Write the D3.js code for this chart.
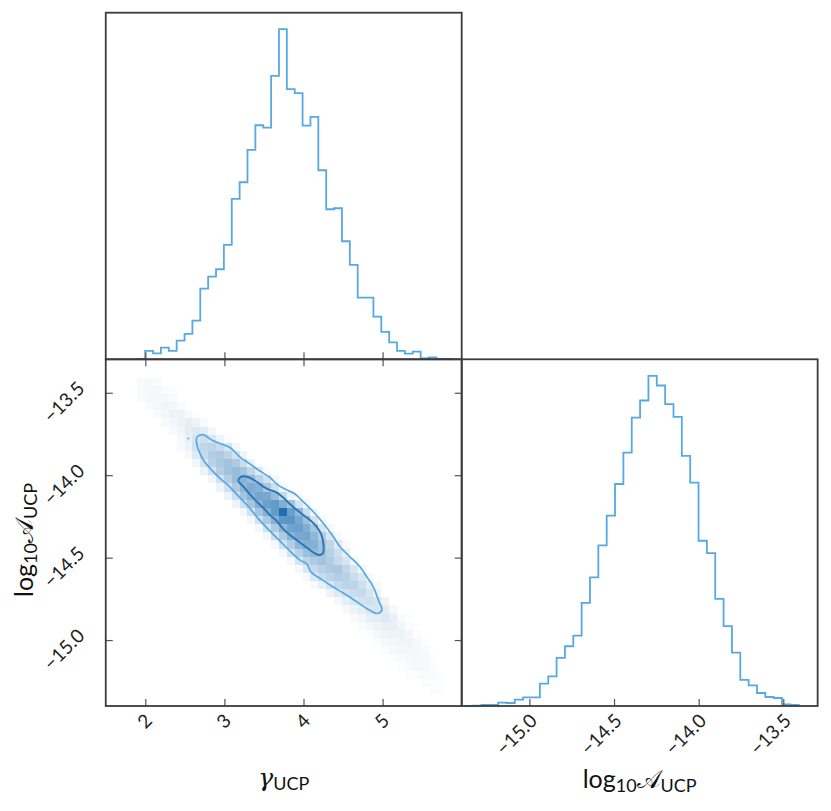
<!DOCTYPE html>
<html><head><meta charset="utf-8">
<script src="https://cdn.jsdelivr.net/npm/d3@7"></script>
<style>body{margin:0;background:#fff}</style>
</head><body>
<svg id="c" width="831" height="811"></svg>
<script>
// ---------------- data ----------------
const gammaBinStart = 1.899, gammaBinWidth = 0.0995;
const gammaCounts = [1, 25, 18, 35, 25, 56, 76, 116, 212, 248, 270, 343, 481, 531, 628, 702, 695, 850, 990, 810,
  798, 701, 727, 567, 450, 453, 354, 283, 185, 185, 128, 82, 51, 25, 17, 23, 3, 6, 1, 1];
const logABinStart = -15.382, logABinWidth = 0.04933;
const logACounts = [0, 1, 3, 3, 10, 9, 19, 26, 26, 67, 89, 144, 179, 211, 309, 385, 481, 570, 665, 759,
  864, 915, 989, 960, 904, 866, 749, 669, 495, 458, 321, 239, 160, 78, 62, 39, 27, 24, 5, 3];
const gammaTicks = [2, 3, 4, 5];
const logATicks = [-15.0, -14.5, -14.0, -13.5];
// 2D density: [logA bin row, first gamma bin column, values (0-100)]
const densityRows = [
  [39, 0, [3, 4, 3]],
  [38, 0, [3, 5, 5, 3, 1]],
  [37, 0, [3, 4, 6, 5, 3]],
  [36, 1, [3, 5, 7, 6, 3]],
  [35, 2, [3, 6, 8, 8, 4, 1]],
  [34, 3, [3, 6, 9, 11, 8, 3]],
  [33, 4, [3, 7, 12, 15, 12, 5]],
  [32, 5, [4, 10, 18, 22, 17, 8, 2]],
  [31, 5, [3, 8, 20, 28, 30, 25, 18, 6]],
  [30, 6, [4, 14, 26, 34, 36, 30, 20, 7]],
  [29, 7, [6, 18, 32, 38, 42, 36, 24, 8]],
  [28, 8, [8, 20, 34, 42, 46, 40, 28, 14, 3]],
  [27, 9, [7, 20, 34, 46, 52, 46, 32, 20, 5]],
  [26, 10, [8, 20, 36, 50, 58, 54, 38, 22, 6]],
  [25, 11, [8, 22, 40, 52, 62, 60, 46, 26, 8]],
  [24, 12, [8, 22, 40, 54, 66, 70, 56, 42, 18, 5]],
  [23, 13, [6, 20, 40, 54, 70, 100, 66, 48, 24, 6]],
  [22, 14, [6, 20, 38, 54, 72, 74, 60, 44, 20, 5]],
  [21, 15, [5, 20, 36, 50, 64, 66, 56, 40, 18, 4]],
  [20, 16, [5, 20, 36, 52, 60, 62, 50, 34, 16, 4]],
  [19, 17, [5, 20, 34, 50, 56, 54, 42, 28, 14, 3]],
  [18, 18, [5, 20, 32, 44, 48, 42, 32, 22, 10]],
  [17, 19, [5, 18, 30, 36, 40, 34, 26, 18, 6]],
  [16, 20, [4, 16, 26, 32, 36, 38, 28, 18, 6]],
  [15, 21, [4, 14, 24, 30, 34, 32, 24, 16, 5]],
  [14, 22, [3, 10, 18, 26, 30, 30, 22, 12, 4]],
  [13, 24, [8, 14, 20, 24, 26, 18, 8]],
  [12, 25, [5, 10, 16, 20, 22, 18, 7]],
  [11, 26, [4, 8, 12, 16, 18, 12, 4]],
  [10, 27, [3, 6, 10, 12, 15, 10, 3]],
  [9, 28, [3, 6, 8, 10, 10, 7, 2]],
  [8, 29, [2, 5, 7, 8, 8, 6, 2]],
  [7, 30, [2, 4, 6, 7, 7, 4, 1]],
  [6, 31, [2, 4, 5, 6, 5, 3]],
  [5, 32, [1, 3, 4, 5, 4, 2]],
  [4, 33, [1, 3, 4, 4, 2]],
  [3, 34, [1, 2, 3, 3, 1]],
  [2, 36, [2, 2, 1]],
  [1, 37, [1, 1]]
];
const samplePoints = [[2.544, -13.777]];
const outerContour = [
  [2.654,-13.769],[2.729,-13.754],[2.839,-13.787],[2.944,-13.808],[3.071,-13.832],[3.197,-13.890],
  [3.324,-13.932],[3.450,-13.975],[3.576,-14.014],[3.678,-14.060],[3.779,-14.087],[3.893,-14.114],
  [3.997,-14.161],[4.124,-14.222],[4.250,-14.292],[4.377,-14.373],[4.461,-14.434],[4.588,-14.495],
  [4.714,-14.555],[4.799,-14.616],[4.882,-14.677],[4.946,-14.757],[4.992,-14.818],[4.929,-14.839],
  [4.799,-14.808],[4.673,-14.768],[4.546,-14.727],[4.440,-14.697],[4.335,-14.666],[4.209,-14.626],
  [4.095,-14.588],[4.044,-14.539],[3.956,-14.515],[3.829,-14.460],[3.703,-14.400],[3.551,-14.327],
  [3.412,-14.254],[3.298,-14.187],[3.172,-14.124],[3.058,-14.066],[2.944,-14.019],[2.839,-13.969],
  [2.742,-13.914],[2.679,-13.854],[2.647,-13.799]
];
const innerContour = [
  [3.176,-14.030],[3.216,-14.008],[3.298,-14.011],[3.408,-14.040],[3.501,-14.072],[3.576,-14.090],
  [3.640,-14.100],[3.716,-14.124],[3.779,-14.151],[3.842,-14.181],[3.918,-14.211],[3.997,-14.242],
  [4.082,-14.272],[4.167,-14.313],[4.228,-14.363],[4.253,-14.424],[4.247,-14.472],[4.209,-14.484],
  [4.145,-14.474],[4.082,-14.454],[3.997,-14.424],[3.914,-14.393],[3.829,-14.363],[3.745,-14.327],
  [3.661,-14.278],[3.576,-14.242],[3.492,-14.199],[3.408,-14.160],[3.317,-14.114],[3.241,-14.069],
  [3.185,-14.042]
];

// ---------------- layout / style ----------------
const FRAME = '#3b3b3b', TICK = '#555', HIST = '#56a9e3', INNER = '#2a76b4', DENS = '#1f6fb0';
const FONT = 'Lato, "DejaVu Sans", sans-serif';
const X0 = 105.75, X1 = 461.7, X2 = 817.65;
const Y0 = 12.7, Y1 = 359.3, Y2 = 706;

const svg = d3.select('#c');
const gx = d3.scaleLinear().domain([1.5, 6.0]).range([X0, X1]);
const ax = d3.scaleLinear().domain([-15.4, -13.297]).range([X1, X2]);
const ay = d3.scaleLinear().domain([-15.4, -13.297]).range([Y2, Y1]);
const hy1 = d3.scaleLinear().domain([0, 1.05 * d3.max(gammaCounts)]).range([Y1, Y0]);
const hy2 = d3.scaleLinear().domain([0, 1.05 * d3.max(logACounts)]).range([Y2, Y1]);

svg.append('defs').append('clipPath').attr('id', 'clip2d')
  .append('rect').attr('x', X0).attr('y', Y1).attr('width', X1 - X0).attr('height', Y2 - Y1);

// ---------------- 2D density ----------------
const cells = [];
densityRows.forEach(([row, start, vals]) => vals.forEach((v, i) => cells.push({row, col: start + i, v})));
const gD = svg.append('g').attr('clip-path', 'url(#clip2d)');
gD.selectAll('rect').data(cells).join('rect')
  .attr('x', d => gx(gammaBinStart + d.col * gammaBinWidth))
  .attr('width', d => gx(gammaBinStart + (d.col + 1) * gammaBinWidth) - gx(gammaBinStart + d.col * gammaBinWidth))
  .attr('y', d => ay(logABinStart + (d.row + 1) * logABinWidth))
  .attr('height', d => ay(logABinStart + d.row * logABinWidth) - ay(logABinStart + (d.row + 1) * logABinWidth))
  .attr('fill', DENS).attr('fill-opacity', d => d.v / 100)
  .attr('shape-rendering', 'crispEdges');
gD.selectAll('circle').data(samplePoints).join('circle')
  .attr('cx', d => gx(d[0])).attr('cy', d => ay(d[1])).attr('r', 1).attr('fill', HIST);

const cline = d3.line().x(d => gx(d[0])).y(d => ay(d[1])).curve(d3.curveCatmullRomClosed.alpha(0.5));
gD.append('path').attr('d', cline(outerContour)).attr('fill', 'none').attr('stroke', HIST).attr('stroke-width', 1.7);
gD.append('path').attr('d', cline(innerContour)).attr('fill', 'none').attr('stroke', INNER).attr('stroke-width', 1.9);

// ---------------- 1D histograms ----------------
function stepPts(start, w, counts) {
  const pts = [[start, 0]];
  counts.forEach((c, i) => { pts.push([start + i * w, c]); pts.push([start + (i + 1) * w, c]); });
  pts.push([start + counts.length * w, 0]);
  return pts;
}
svg.append('path')
  .attr('d', d3.line().x(d => gx(d[0])).y(d => hy1(d[1]))(stepPts(gammaBinStart, gammaBinWidth, gammaCounts)))
  .attr('fill', 'none').attr('stroke', HIST).attr('stroke-width', 1.8);
svg.append('path')
  .attr('d', d3.line().x(d => ax(d[0])).y(d => hy2(d[1]))(stepPts(logABinStart, logABinWidth, logACounts)))
  .attr('fill', 'none').attr('stroke', HIST).attr('stroke-width', 1.8);

// ---------------- ticks (inward) ----------------
function tickAxis(axisGen, tx, ty) {
  const g = svg.append('g').attr('transform', `translate(${tx},${ty})`).call(axisGen);
  g.select('.domain').remove();
  g.selectAll('.tick line').attr('stroke', TICK).attr('stroke-width', 1.2);
  g.selectAll('.tick text').remove();
}
tickAxis(d3.axisTop(gx).tickValues(gammaTicks).tickSize(7), 0, Y1);      // top hist bottom
tickAxis(d3.axisBottom(gx).tickValues(gammaTicks).tickSize(7), 0, Y1);   // 2D top
tickAxis(d3.axisTop(gx).tickValues(gammaTicks).tickSize(7), 0, Y2);      // 2D bottom
tickAxis(d3.axisRight(ay).tickValues(logATicks).tickSize(7), X0, 0);     // 2D left
tickAxis(d3.axisLeft(ay).tickValues(logATicks).tickSize(7), X1, 0);      // 2D right
tickAxis(d3.axisTop(ax).tickValues(logATicks).tickSize(7), 0, Y2);       // right hist bottom

// ---------------- frames ----------------
[[X0, Y0, X1, Y1], [X0, Y1, X1, Y2], [X1, Y1, X2, Y2]].forEach(([a, b, c, d]) =>
  svg.append('rect').attr('x', a).attr('y', b).attr('width', c - a).attr('height', d - b)
    .attr('fill', 'none').attr('stroke', FRAME).attr('stroke-width', 1.8));

// ---------------- tick labels ----------------
const fmtA = v => d3.format('.1f')(v).replace('-', '\u2212');
const lab = svg.append('g').attr('font-family', FONT).attr('font-size', 19).attr('fill', '#222');
lab.selectAll('.gx').data(gammaTicks).join('text')
  .attr('text-anchor', 'end')
  .attr('transform', d => `translate(${gx(d) + 8},${Y2 + 16}) rotate(-45)`)
  .text(d => d);
lab.selectAll('.ax').data(logATicks).join('text')
  .attr('text-anchor', 'end')
  .attr('transform', d => `translate(${ax(d) + 9},${Y2 + 16}) rotate(-45)`)
  .text(fmtA);
lab.selectAll('.ay').data(logATicks).join('text')
  .attr('text-anchor', 'end')
  .attr('transform', d => `translate(${X0 - 20},${ay(d) - 3}) rotate(-45)`)
  .text(fmtA);

// ---------------- axis labels ----------------
const t1 = svg.append('text').attr('x', (X0 + X1) / 2).attr('y', 786).attr('text-anchor', 'middle')
  .attr('font-family', FONT).attr('font-size', 25).attr('fill', '#111');
t1.append('tspan').attr('font-family', '"DejaVu Serif", serif').attr('font-style', 'italic').text('γ');
t1.append('tspan').attr('font-size', 18).attr('dy', 4).text('UCP');

function logLabel(sel) {
  sel.append('tspan').text('log');
  sel.append('tspan').attr('font-size', 18).attr('dy', 4).text('10');
  sel.append('tspan').attr('dy', -4).attr('font-family', '"DejaVu Sans", serif').text('𝒜');
  sel.append('tspan').attr('font-size', 18).attr('dy', 4).text('UCP');
}
const t2 = svg.append('text').attr('x', (X1 + X2) / 2).attr('y', 788).attr('text-anchor', 'middle')
  .attr('font-family', FONT).attr('font-size', 25).attr('fill', '#111');
logLabel(t2);
const t3 = svg.append('text').attr('text-anchor', 'middle')
  .attr('transform', `translate(33,540) rotate(-90)`)
  .attr('font-family', FONT).attr('font-size', 25).attr('fill', '#111');
logLabel(t3);
</script>
</body></html>
